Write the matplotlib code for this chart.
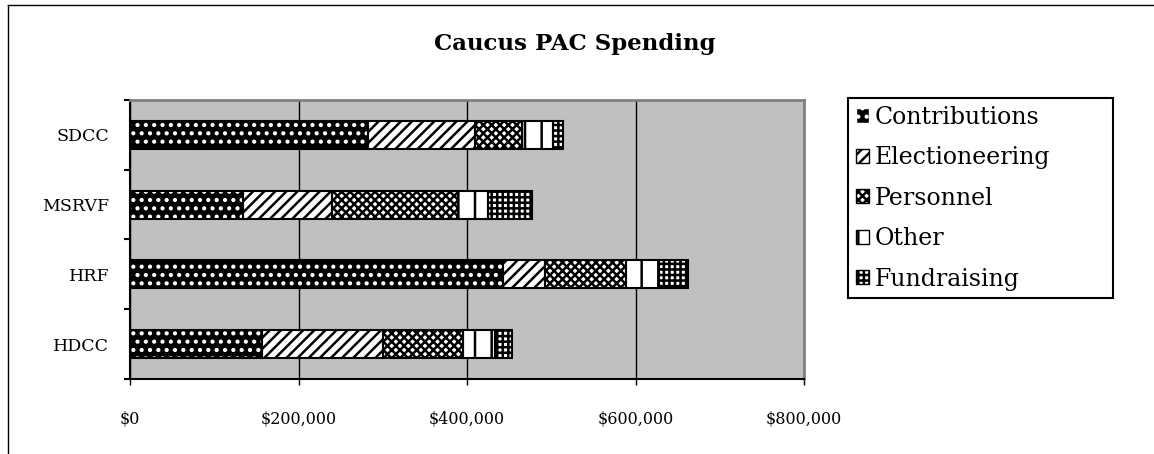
import matplotlib
matplotlib.use("Agg")
import matplotlib.pyplot as plt
import numpy as np
from matplotlib.patches import Patch
from matplotlib.lines import Line2D
from matplotlib.ticker import FuncFormatter, FixedLocator

categories = ["HDCC", "HRF", "MSRVF", "SDCC"]
series_names = ["Contributions", "Electioneering", "Personnel", "Other", "Fundraising"]
contributions = [156700, 442700, 134100, 282500]
electioneering = [143600, 49900, 105600, 127000]
personnel = [95000, 96100, 149600, 55800]
other = [38000, 39200, 35600, 36800]
fundraising = [20200, 34400, 52200, 11900]
x_ticks = [0, 200000, 400000, 600000, 800000]
title = "Caucus PAC Spending"

series = [contributions, electioneering, personnel, other, fundraising]
# style per series: facecolor, hatch, hatch color
styles = [
    ("black", "..", "white"),
    ("white", "///", "black"),
    ("white", "xxxx", "black"),
    ("white", "|", "black"),
    ("white", "+++", "black"),
]

plt.rcParams["font.family"] = ["DejaVu Serif"]
plt.rcParams["hatch.linewidth"] = 1.8

fig = plt.figure(figsize=(11.54, 4.54), dpi=100)
ax = fig.add_axes([130/1154, 75/454, 674/1154, 279/454])
ax.set_facecolor("#C0C0C0")

y = np.arange(len(categories))
left = np.zeros(len(categories))
for vals, (fc, hatch, hc) in zip(series, styles):
    vals = np.array(vals, dtype=float)
    ax.barh(y, vals, left=left, height=0.4, color=fc, hatch=hatch,
            edgecolor=hc, linewidth=0, zorder=3)
    ax.barh(y, vals, left=left, height=0.4, fill=False,
            edgecolor="black", linewidth=1.5, zorder=4)
    left += vals

ax.set_xlim(0, 800000)
ax.set_ylim(-0.5, len(categories) - 0.5)
ax.xaxis.set_major_locator(FixedLocator(x_ticks))
ax.xaxis.set_major_formatter(FuncFormatter(lambda v, p: "${:,.0f}".format(v)))
ax.grid(axis="x", color="black", linewidth=1, zorder=1)
ax.set_axisbelow(True)
ax.set_yticks(y)
ax.set_yticklabels(categories)
ax.set_yticks(np.arange(-0.5, len(categories), 1.0), minor=True)
ax.tick_params(axis="y", which="major", length=0, pad=15, labelsize=12.5)
ax.tick_params(axis="y", which="minor", length=4, width=1.5, direction="out")
ax.tick_params(axis="x", which="major", length=4, width=1, direction="out",
               pad=19, labelsize=11.5)
for s in ["top", "right"]:
    ax.spines[s].set_color("#808080")
    ax.spines[s].set_linewidth(2)
for s in ["left", "bottom"]:
    ax.spines[s].set_color("black")
    ax.spines[s].set_linewidth(1.5)

fig.text(0.498, 1 - 44/454, title, ha="center", va="center",
         fontsize=16.5, fontweight="bold")

# figure frame (top and left)
fig.add_artist(Line2D([8/1154, 1], [1 - 5/454, 1 - 5/454], color="black",
                      linewidth=1, transform=fig.transFigure))
fig.add_artist(Line2D([8/1154, 8/1154], [0, 1 - 5/454], color="black",
                      linewidth=1, transform=fig.transFigure))

handles = []
for name, (fc, hatch, hc) in zip(series_names, styles):
    handles.append(Patch(facecolor=fc, hatch=hatch, edgecolor=hc if fc == "black" else "black",
                         linewidth=1, label=name))
leg = fig.legend(handles=handles, loc="upper left", mode="expand",
                 bbox_to_anchor=(848/1154, 1 - 297/454, 265/1154, 199/454),
                 borderaxespad=0,
                 fontsize=17, handlelength=0.55, handleheight=0.55,
                 handletextpad=0.25, labelspacing=0.74, borderpad=0.33,
                 fancybox=False, edgecolor="black", framealpha=1)
leg.get_frame().set_linewidth(1.5)

fig.savefig("out.png", dpi=100)
